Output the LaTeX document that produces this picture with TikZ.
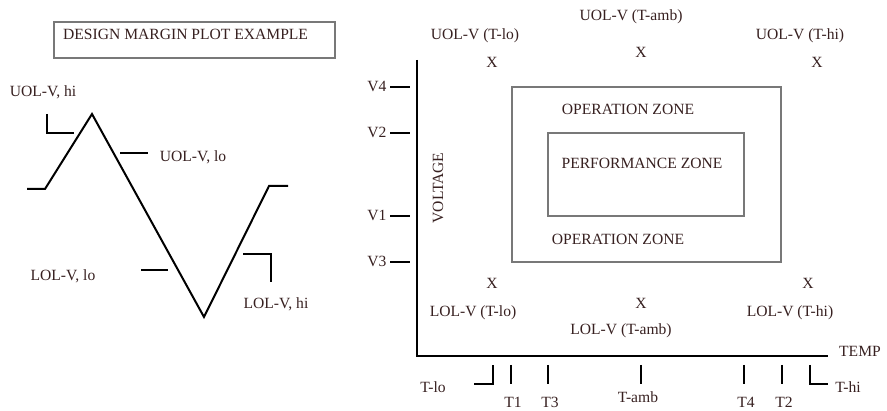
\documentclass[tikz,border=0pt]{standalone}
\usepackage{fontspec}
\setmainfont{Liberation Serif}
\usetikzlibrary{positioning, calc}
\definecolor{inkred}{RGB}{55,32,32}
\definecolor{boxgray}{RGB}{120,120,120}

\begin{document}
\begin{tikzpicture}[x=1pt, y=-1pt,
    lbl/.style={text=inkred, font=\fontsize{15.6}{17}\selectfont, inner sep=0pt},
    xpt/.style={lbl, font=\fontsize{15.6}{17}\selectfont},
    wave/.style={line width=2pt, line join=miter},
    tickline/.style={line width=2pt},
    zone/.style={draw=boxgray, line width=1.2pt},
    ]
\useasboundingbox (0,0) rectangle (887,411);

% title
\draw[zone] (54,22) rectangle (335,58);
\node[lbl, anchor=west] (title) at (63,34) {DESIGN MARGIN PLOT EXAMPLE};

% waveform
\draw[wave] (27,189) -- (45,189) -- (92,114) -- (204,317) -- (269,186) -- (288,186);
\draw[wave] (47,114) -- (47,133) -- (74,133);
\draw[wave] (120,153) -- (148,153);
\draw[wave] (141,270) -- (168,270);
\draw[wave] (243,254) -- (271,254) -- (271,282);
\node[lbl] (uolhi) at (43,92) {UOL-V, hi};
\node[lbl] (uollo) at (193,157) {UOL-V, lo};
\node[lbl] (lollo) at (63,276) {LOL-V, lo};
\node[lbl] (lolhi) at (276,304) {LOL-V, hi};

% axes
\coordinate (origin) at (417,356);
\draw[line width=2.4pt] (417,60) -- (origin) -- (828,356);
\node[lbl] (temp) at (860,351) {TEMP};
\node[lbl, rotate=90] (volt) at (438,188) {VOLTAGE};

% zones
\draw[zone] (512,87) rectangle (781,262);
\draw[zone] (548,133) rectangle (744,216);
\node[lbl] (opztop) at (628,109) {OPERATION ZONE};
\node[lbl] (perfz) at (642,163) {PERFORMANCE ZONE};
\node[lbl] (opzbot) at (618,239) {OPERATION ZONE};

% voltage ticks
\foreach \yy/\vname in {87/V4, 133/V2, 216/V1, 262/V3} {
  \draw[tickline] (390,\yy) -- (410,\yy);
  \node[lbl] at (377,\yy-1) {\vname};
}

% temperature ticks
\draw[tickline] (474,384) -- (493,384) -- (493,365);
\draw[tickline] (810,365) -- (810,384) -- (828,384);
\foreach \xx/\tname in {511/T1, 548/T3, 744/T4, 782/T2} {
  \draw[tickline] (\xx,365) -- (\xx,384);
  \node[lbl] at (\xx+2,402.5) {\tname};
}
\draw[tickline] (641,365) -- (641,384);
\node[lbl] (tamb) at (638,397) {T-amb};
\node[lbl] (tlo) at (433,387) {T-lo};
\node[lbl] (thi) at (848,387) {T-hi};

% limit points
\node[lbl] (uoltlo) at (475,36) {UOL-V (T-lo)};
\node[xpt] (xuollo) at (492,62) {X};
\node[lbl] (uoltamb) at (631,17) {UOL-V (T-amb)};
\node[xpt] (xuolamb) at (641,52) {X};
\node[lbl] (uolthi) at (800,36) {UOL-V (T-hi)};
\node[xpt] (xuolhi) at (817,62) {X};
\node[xpt] (xlollo) at (492,283) {X};
\node[lbl] (loltlo) at (473,313) {LOL-V (T-lo)};
\node[xpt] (xlolamb) at (641,303) {X};
\node[lbl] (loltamb) at (621,331) {LOL-V (T-amb)};
\node[xpt] (xlolhi) at (808,283) {X};
\node[lbl] (lolthi) at (790,313) {LOL-V (T-hi)};
\end{tikzpicture}
\end{document}
